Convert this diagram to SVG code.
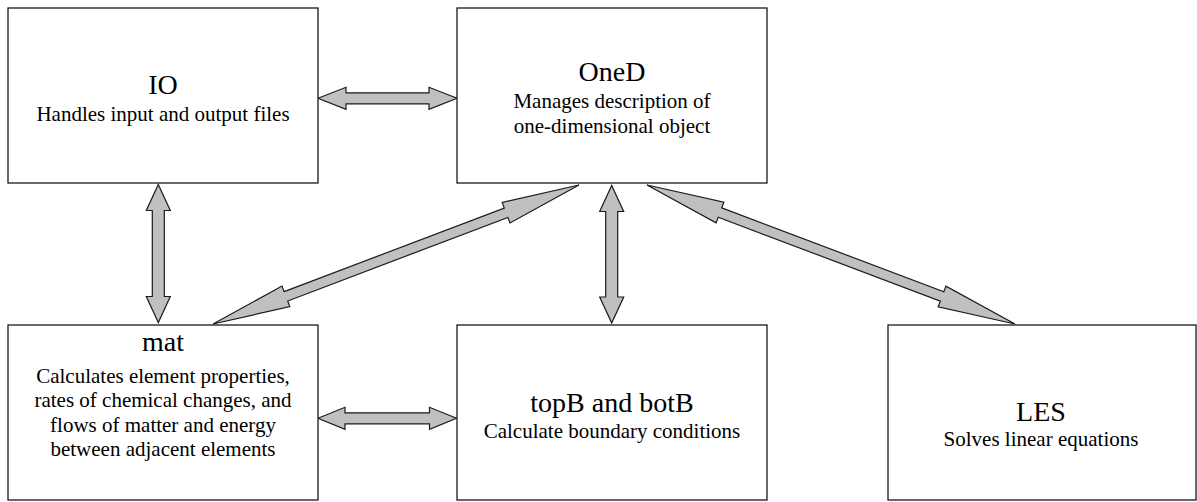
<svg xmlns="http://www.w3.org/2000/svg" width="1197" height="502" viewBox="0 0 1197 502">
<style>
.box{fill:#fff;stroke:#1a1a1a;stroke-width:1.3}
.t{font-size:28px;fill:#000;text-anchor:middle}
.s{font-size:21px;fill:#000;text-anchor:middle}
.arr{fill:#c0c0c0;stroke:#1a1a1a;stroke-width:1.2;stroke-linejoin:miter}
</style>
<rect width="1197" height="502" fill="#fff"/>
<g id="connectors">
<polygon class="arr" transform="translate(318,98.3)" points="0,0 28,-11 28,-5.5 111,-5.5 111,-11 139,0 111,11 111,5.5 28,5.5 28,11"/>
<polygon class="arr" transform="translate(318,418.3)" points="0,0 27,-11 27,-5.5 111.5,-5.5 111.5,-11 138.5,0 111.5,11 111.5,5.5 27,5.5 27,11"/>
<polygon class="arr" transform="translate(158.3,184.5) rotate(90)" points="0,0 26,-12 26,-6 112,-6 112,-12 138,0 112,12 112,6 26,6 26,12"/>
<polygon class="arr" transform="translate(611.7,185.5) rotate(90)" points="0,0 26,-12 26,-6 111.5,-6 111.5,-12 137.5,0 111.5,12 111.5,6 26,6 26,12"/>
<polygon class="arr" transform="translate(213,324) rotate(-20.79)" points="0,0 78,-11 78,-5 313.5,-5 313.5,-11 391.5,0 313.5,11 313.5,5 78,5 78,11"/>
<polygon class="arr" transform="translate(647,185) rotate(20.69)" points="0,0 78,-11 78,-5 315.4,-5 315.4,-11 393.4,0 315.4,11 315.4,5 78,5 78,11"/>
</g>
<g font-family="'Liberation Serif', 'DejaVu Serif', 'Times New Roman', serif">
<g id="IO">
<rect class="box" x="8" y="8" width="310" height="175"/>
<text class="t" x="163" y="94">IO</text>
<text class="s" x="163" y="121">Handles input and output files</text>
</g>
<g id="OneD">
<rect class="box" x="457" y="8" width="310" height="175"/>
<text class="t" x="612" y="81">OneD</text>
<text class="s" x="612" y="108">Manages description of</text>
<text class="s" x="612" y="132.5">one-dimensional object</text>
</g>
<g id="mat">
<rect class="box" x="8" y="325" width="310" height="175"/>
<text class="t" x="163" y="351">mat</text>
<text class="s" x="163" y="382.5">Calculates element properties,</text>
<text class="s" x="163" y="407">rates of chemical changes, and</text>
<text class="s" x="163" y="431.5">flows of matter and energy</text>
<text class="s" x="163" y="456">between adjacent elements</text>
</g>
<g id="topB">
<rect class="box" x="457" y="325" width="310" height="175"/>
<text class="t" x="612" y="411.5">topB and botB</text>
<text class="s" x="612" y="438">Calculate boundary conditions</text>
</g>
<g id="LES">
<rect class="box" x="888" y="325" width="308" height="175"/>
<text class="t" x="1041" y="421">LES</text>
<text class="s" x="1041" y="446">Solves linear equations</text>
</g>
</g>
</svg>
